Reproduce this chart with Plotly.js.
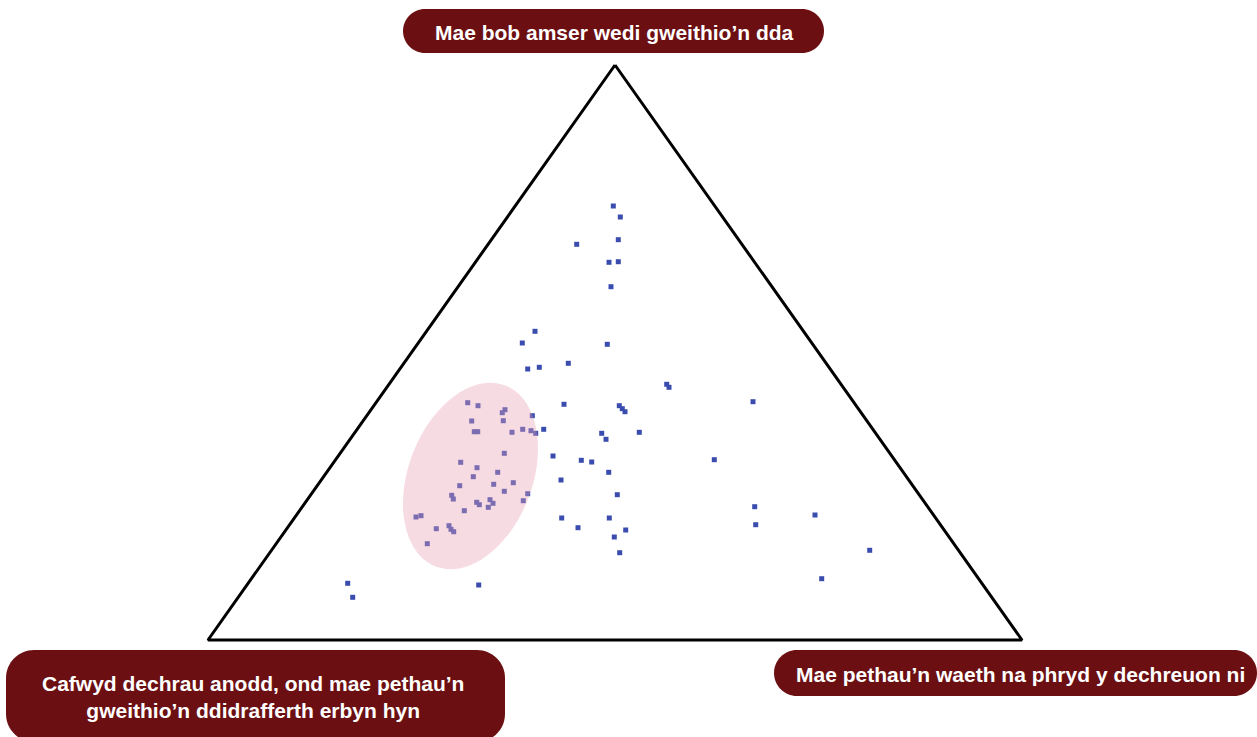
<!DOCTYPE html>
<html><head><meta charset="utf-8">
<script src="https://cdn.plot.ly/plotly-3.0.1.min.js"></script>
<style>html,body{margin:0;padding:0;background:#fff;}#chart{width:1257px;height:737px;}</style>
</head><body><div id="chart"></div>
<script>
// Point positions (pixel-like coordinates, y downward)
const pointsX = [613.3,620.3,576.7,618.3,609,618.3,611,535,522.3,607.3,527.7,539.3,568.3,666.7,669,
  467.7,478,505,502.3,471.7,503.3,532.3,474.3,477.7,512,522.7,531,535.7,543.7,553,504.3,460.7,477,473.3,
  497.7,493.7,513.3,459.7,504.3,527.7,451.7,453.3,523.3,476.7,479.3,490,493,488.3,464.3,421,416,436.3,
  449,451,453.7,427.3,
  564,619.3,622.3,625,601.7,606,639.3,581.3,591.7,608.7,714.3,561,617.3,561.7,609.3,578,625.7,614.3,619.7,
  753,754.7,755.7,815,869.7,821.7,347.7,352.7,478.7];
const pointsY = [206,217,244.3,239.7,262.3,261.7,286.7,331.3,343,344.3,369,367.3,363.3,384.3,387.3,
  402.7,405.7,409.7,412.7,421,420.7,415.7,431.7,431.7,432.3,429.3,430.7,433.3,429.3,456,453.3,462.3,467.7,476.7,
  472.3,484.3,482.7,485.7,491.3,493.7,495.3,499,500.7,502.3,504.7,499.7,503.3,507.3,510.7,515.7,517,528.7,
  525.7,529.3,531.7,543.7,
  404.3,405.7,408.7,411.7,433.3,439.3,432.3,460.3,462,472.3,459.7,480,494.7,518,518,527.7,530,537,552.7,
  401.7,506.7,524.7,515,550.3,578.7,583.3,597.3,585];
const vertexLabels = ["Mae bob amser wedi gweithio’n dda",
  "Cafwyd dechrau anodd, ond mae pethau’n<br>gweithio’n ddidrafferth erbyn hyn",
  "Mae pethau’n waeth na phryd y dechreuon ni"];
const triX = [615, 208, 1022, 615];
const triY = [65, 640, 640, 65];

function roundRect(x0, y0, x1, y1, r) {
  const k = 0.5523 * r;
  return `M${x0+r},${y0} L${x1-r},${y0} C${x1-r+k},${y0} ${x1},${y0+r-k} ${x1},${y0+r} ` +
         `L${x1},${y1-r} C${x1},${y1-r+k} ${x1-r+k},${y1} ${x1-r},${y1} ` +
         `L${x0+r},${y1} C${x0+r-k},${y1} ${x0},${y1-r+k} ${x0},${y1-r} ` +
         `L${x0},${y0+r} C${x0},${y0+r-k} ${x0+r-k},${y0} ${x0+r},${y0} Z`;
}
function ellipsePath(cx, cy, a, b, deg) {
  const t = deg * Math.PI / 180; let p = '';
  for (let i = 0; i <= 72; i++) {
    const u = i / 72 * 2 * Math.PI;
    const x = cx + a * Math.cos(u) * Math.cos(t) - b * Math.sin(u) * Math.sin(t);
    const y = cy - (a * Math.cos(u) * Math.sin(t) + b * Math.sin(u) * Math.cos(t));
    p += (i ? ' L' : 'M') + x.toFixed(1) + ',' + y.toFixed(1);
  }
  return p + ' Z';
}
const red = '#6b0f12';
const traces = [
  {x: triX, y: triY, mode: 'lines', line: {color: '#000', width: 3}, hoverinfo: 'skip'},
  {x: pointsX, y: pointsY, mode: 'markers', marker: {symbol: 'square', size: 5, color: '#3a4cae'}}
];
const layout = {
  width: 1257, height: 737, margin: {l: 0, r: 0, t: 0, b: 0},
  paper_bgcolor: '#fff', plot_bgcolor: '#fff', showlegend: false,
  xaxis: {range: [0, 1257], visible: false, fixedrange: true},
  yaxis: {range: [737, 0], visible: false, fixedrange: true},
  shapes: [
    {type: 'path', path: ellipsePath(470.5, 476, 97, 62, 69), fillcolor: 'rgba(232,160,182,0.38)', line: {width: 0}, layer: 'above'},
    {type: 'path', path: roundRect(403, 9, 824, 53, 22), fillcolor: red, line: {width: 0}},
    {type: 'path', path: roundRect(6, 650, 505, 742, 28), fillcolor: red, line: {width: 0}},
    {type: 'path', path: roundRect(774, 650, 1257, 696, 23), fillcolor: red, line: {width: 0}}
  ],
  annotations: [
    {x: 614, y: 32, text: '<b>' + vertexLabels[0] + '</b>', showarrow: false, font: {family: 'Liberation Sans, Arial', size: 21, color: '#fff'}},
    {x: 253, y: 697, text: '<b>' + vertexLabels[1] + '</b>', showarrow: false, align: 'center', font: {family: 'Liberation Sans, Arial', size: 21, color: '#fff'}},
    {x: 1020, y: 674, text: '<b>' + vertexLabels[2] + '</b>', showarrow: false, font: {family: 'Liberation Sans, Arial', size: 21, color: '#fff'}}
  ]
};
Plotly.newPlot('chart', traces, layout, {displayModeBar: false, staticPlot: true});
</script></body></html>
